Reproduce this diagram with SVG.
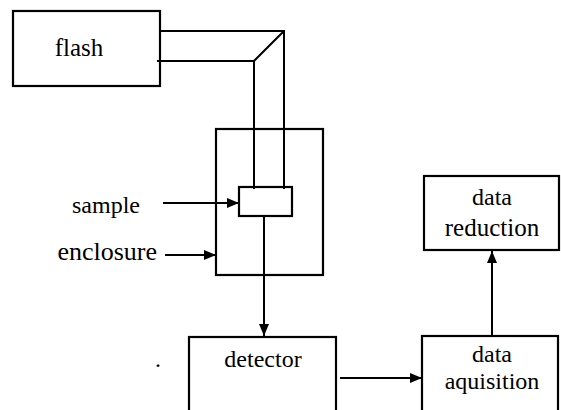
<svg xmlns="http://www.w3.org/2000/svg" width="561" height="410" viewBox="0 0 561 410">
<defs>
<marker id="ah" viewBox="0 0 12 10" refX="12" refY="5" markerWidth="12" markerHeight="10" markerUnits="userSpaceOnUse" orient="auto">
<path d="M0,0 L12,5 L0,10 Z" fill="#000"/>
</marker>
</defs>
<rect width="561" height="410" fill="#fff"/>
<g font-family="'Liberation Serif', serif" font-size="24" fill="#000">
<g id="flash">
<rect x="13" y="11" width="147" height="75" fill="#fff" stroke="#000" stroke-width="2.2"/>
<text x="79" y="56" text-anchor="middle" font-size="25">flash</text>
</g>
<g id="enclosure">
<rect x="216" y="129" width="107" height="146" fill="#fff" stroke="#000" stroke-width="2.2"/>
</g>
<g id="sample">
<rect x="239" y="187" width="53" height="29" fill="#fff" stroke="#000" stroke-width="2.2"/>
</g>
<g id="detector">
<rect x="189" y="337" width="147" height="80" fill="#fff" stroke="#000" stroke-width="2.2"/>
<text x="263" y="367" text-anchor="middle">detector</text>
</g>
<g id="acquisition">
<rect x="422" y="336" width="136" height="80" fill="#fff" stroke="#000" stroke-width="2.2"/>
<text x="492" y="362" text-anchor="middle">data</text>
<text x="492" y="389" text-anchor="middle">aquisition</text>
</g>
<g id="reduction">
<rect x="424" y="176" width="135" height="74" fill="#fff" stroke="#000" stroke-width="2.2"/>
<text x="492" y="205" text-anchor="middle">data</text>
<text x="492" y="236" text-anchor="middle" font-size="25">reduction</text>
</g>
<g id="labels">
<text x="140" y="213" text-anchor="end">sample</text>
<text x="157" y="260" text-anchor="end" font-size="26">enclosure</text>
<text x="158" y="367" text-anchor="middle">.</text>
</g>
</g>
<g id="connectors" fill="none" stroke="#000" stroke-width="2">
<path d="M160,31 L284,31 L284,189"/>
<path d="M157,61 L254,61 L254,189"/>
<path d="M254,61 L284,31"/>
<line x1="163" y1="203" x2="239" y2="203" marker-end="url(#ah)"/>
<line x1="165" y1="255" x2="216" y2="255" marker-end="url(#ah)"/>
<line x1="264" y1="216" x2="264" y2="336" marker-end="url(#ah)"/>
<line x1="340" y1="378" x2="422" y2="378" marker-end="url(#ah)"/>
<line x1="492" y1="336" x2="492" y2="251" marker-end="url(#ah)"/>
</g>
</svg>
